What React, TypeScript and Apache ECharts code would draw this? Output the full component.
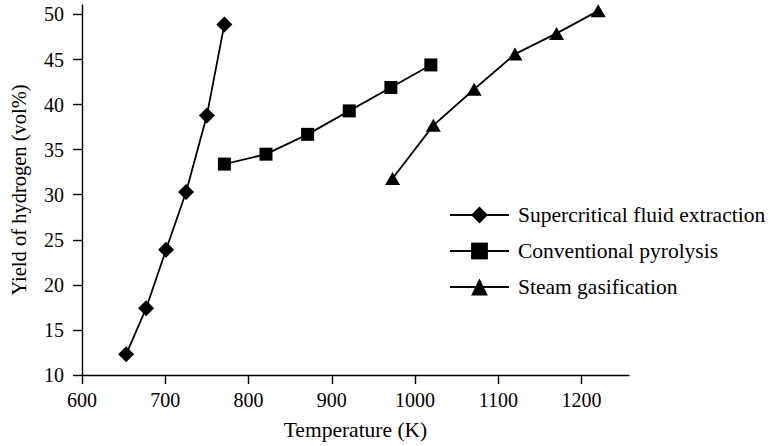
import React, { useEffect, useRef } from "react";
import * as echarts from "echarts";

const scfeTemp = [653, 677, 701, 725, 750, 771];
const scfeYield = [12.3, 17.4, 23.9, 30.3, 38.8, 48.9];
const pyroTemp = [771, 821, 871, 921, 971, 1019];
const pyroYield = [33.4, 34.5, 36.7, 39.3, 41.9, 44.4];
const steamTemp = [973, 1022, 1071, 1120, 1170, 1220];
const steamYield = [31.8, 37.7, 41.7, 45.6, 47.9, 50.4];
const xTicks = [600, 700, 800, 900, 1000, 1100, 1200];
const yTicks = [10, 15, 20, 25, 30, 35, 40, 45, 50];
const seriesNames = ["Supercritical fluid extraction", "Conventional pyrolysis", "Steam gasification"];

const FONT = "'Liberation Serif', 'DejaVu Serif', serif";

export default function App() {
  const ref = useRef<HTMLDivElement>(null);
  useEffect(() => {
    if (!ref.current) return;
    const chart = echarts.init(ref.current, undefined, { renderer: "svg" });
    const zip = (xs: number[], ys: number[]) => xs.map((x, i) => [x, ys[i]]);
    const common = {
      type: "line" as const,
      color: "#000",
      lineStyle: { color: "#000", width: 1.8 },
      itemStyle: { color: "#000" },
    };
    chart.setOption({
      animation: false,
      backgroundColor: "#fff",
      textStyle: { fontFamily: FONT, color: "#000" },
      grid: { left: 81, top: 5, right: 144, bottom: 70, containLabel: false },
      legend: {
        orient: "vertical",
        left: 444,
        top: 199,
        itemWidth: 59,
        itemHeight: 21,
        itemGap: 14,
        data: seriesNames,
        textStyle: { fontFamily: FONT, fontSize: 21.5, color: "#000", padding: [0, 0, 0, 4] },
      },
      xAxis: {
        type: "value",
        min: 600,
        max: 1257,
        name: "Temperature (K)",
        nameLocation: "middle",
        nameGap: 44,
        nameTextStyle: { fontFamily: FONT, fontSize: 21.5, color: "#000" },
        axisLine: { show: true, onZero: false, lineStyle: { color: "#000", width: 1.4 } },
        axisTick: { show: true, length: 9, customValues: xTicks, lineStyle: { color: "#000", width: 1.4 } },
        axisLabel: {
          customValues: xTicks,
          fontFamily: FONT,
          fontSize: 20,
          color: "#000",
          margin: 15,
          formatter: (v: number) => String(v),
        },
        splitLine: { show: false },
      },
      yAxis: {
        type: "value",
        min: 10,
        max: 51.05,
        name: "Yield of hydrogen (vol%)",
        nameLocation: "middle",
        nameGap: 53,
        nameTextStyle: { fontFamily: FONT, fontSize: 20.5, color: "#000" },
        axisLine: { show: true, onZero: false, lineStyle: { color: "#000", width: 1.4 } },
        axisTick: { show: true, length: 9, customValues: yTicks, lineStyle: { color: "#000", width: 1.4 } },
        axisLabel: {
          customValues: yTicks,
          fontFamily: FONT,
          fontSize: 20,
          color: "#000",
          margin: 18,
          formatter: (v: number) => String(v),
        },
        splitLine: { show: false },
      },
      series: [
        { ...common, name: seriesNames[0], symbol: "diamond", symbolSize: 16, data: zip(scfeTemp, scfeYield) },
        { ...common, name: seriesNames[1], symbol: "rect", symbolSize: 13, data: zip(pyroTemp, pyroYield) },
        { ...common, name: seriesNames[2], symbol: "triangle", symbolSize: [15, 13], data: zip(steamTemp, steamYield) },
      ],
    });
    return () => chart.dispose();
  }, []);
  return (
    <div
      ref={ref}
      style={{ position: "absolute", left: 0, top: 0, width: 773, height: 446 }}
    />
  );
}
